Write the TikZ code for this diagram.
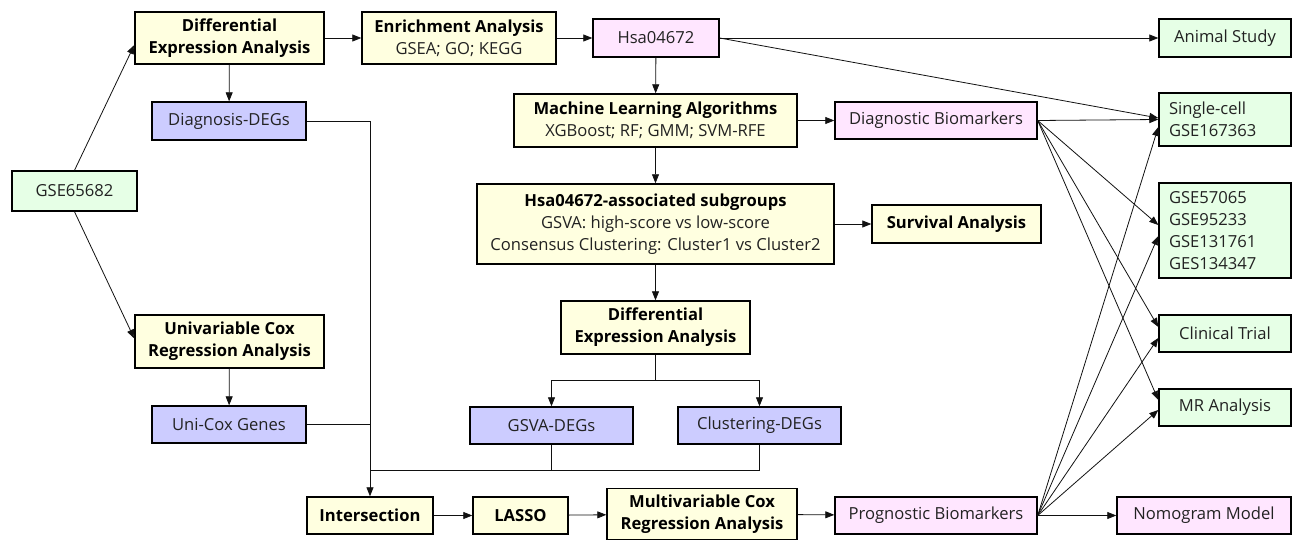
\documentclass[tikz,border=0pt]{standalone}
\usepackage{fontspec}
\setmainfont{Open Sans}
\usetikzlibrary{arrows.meta}
\definecolor{cy}{HTML}{FFFFE0}
\definecolor{cb}{HTML}{CCCCFF}
\definecolor{cp}{HTML}{FFE6FF}
\definecolor{cg}{HTML}{E6FFE6}
\definecolor{tx}{HTML}{222222}
\definecolor{ln}{HTML}{111111}
\tikzset{
  box/.style={draw=black, line width=1.4pt, inner sep=2pt, align=center, font=\fontsize{16.6}{21.8}\selectfont, text=tx},
  ybox/.style={box, fill=cy},
  bbox/.style={box, fill=cb},
  pbox/.style={box, fill=cp},
  gbox/.style={box, fill=cg},
  lbox/.style={gbox, align=left, text width=112pt},
  arr/.style={draw=ln, line width=0.8pt, -{Triangle[length=9pt,width=7pt]}},
  ln/.style={draw=ln, line width=0.8pt},
}
\newcommand{\bt}[1]{\textbf{\color{black}#1}}
\begin{document}
\begin{tikzpicture}[x=1pt,y=-1pt]
\useasboundingbox (0,0) rectangle (1293,540);
% nodes
\node[gbox, minimum width=125pt, minimum height=40pt] (gse) at (74.5,191) {GSE65682};
\node[ybox, minimum width=189pt, minimum height=52pt] (dea1) at (229.5,38) {\bt{Differential}\\\bt{Expression Analysis}};
\node[bbox, minimum width=154pt, minimum height=38pt] (ddeg) at (229,121) {Diagnosis-DEGs};
\node[ybox, minimum width=194pt, minimum height=52pt] (enr) at (459,38) {\bt{Enrichment Analysis}\\GSEA; GO; KEGG};
\node[pbox, minimum width=126pt, minimum height=38pt] (hsa) at (656,38) {Hsa04672};
\node[gbox, minimum width=132pt, minimum height=38pt] (animal) at (1225,38) {Animal Study};
\node[ybox, minimum width=283pt, minimum height=53pt] (ml) at (655.5,120.5) {\bt{Machine Learning Algorithms}\\XGBoost; RF; GMM; SVM-RFE};
\node[pbox, minimum width=202pt, minimum height=37pt] (diag) at (936,120.5) {Diagnostic Biomarkers};
\node[lbox, minimum width=132pt, minimum height=53pt] (single) at (1225,119.5) {Single-cell\\GSE167363};
\node[lbox, minimum width=132pt, minimum height=95pt] (gsel) at (1225,230.5) {GSE57065\\GSE95233\\GSE131761\\GES134347};
\node[ybox, minimum width=357pt, minimum height=80pt] (hsaa) at (655.5,224) {\bt{Hsa04672-associated subgroups}\\GSVA: high-score vs low-score\\Consensus Clustering: Cluster1 vs Cluster2};
\node[ybox, minimum width=169pt, minimum height=38pt] (surv) at (956.5,224) {\bt{Survival Analysis}};
\node[ybox, minimum width=189pt, minimum height=53pt] (dea2) at (655.5,327.5) {\bt{Differential}\\\bt{Expression Analysis}};
\node[bbox, minimum width=163pt, minimum height=37pt] (gsva) at (551.5,425.5) {GSVA-DEGs};
\node[bbox, minimum width=163pt, minimum height=37pt] (clust) at (759.5,425.5) {Clustering-DEGs};
\node[gbox, minimum width=132pt, minimum height=37pt] (clin) at (1225,333.5) {Clinical Trial};
\node[gbox, minimum width=132pt, minimum height=37pt] (mr) at (1225,407.5) {MR Analysis};
\node[pbox, minimum width=174pt, minimum height=37pt] (nomo) at (1204,515.5) {Nomogram Model};
\node[pbox, minimum width=202pt, minimum height=37pt] (prog) at (936,515.5) {Prognostic Biomarkers};
\node[ybox, minimum width=190pt, minimum height=51pt] (multi) at (702,514) {\bt{Multivariable Cox}\\\bt{Regression Analysis}};
\node[ybox, minimum width=95pt, minimum height=37pt] (lasso) at (520.5,515.5) {\bt{LASSO}};
\node[ybox, minimum width=126pt, minimum height=37pt] (inter) at (370,515.5) {\bt{Intersection}};
\node[ybox, minimum width=189pt, minimum height=53pt] (ucox) at (229.5,341.5) {\bt{Univariable Cox}\\\bt{Regression Analysis}};
\node[bbox, minimum width=154pt, minimum height=37pt] (ucg) at (229,424.5) {Uni-Cox Genes};
\coordinate (j) at (370,470);
% connectors
\draw[arr] (gse.north) -- ([yshift=-7pt]dea1.west);
\draw[arr] (gse.south) -- ([yshift=3pt]ucox.west);
\draw[arr] (dea1) -- (ddeg);
\draw[arr] (ucox) -- (ucg);
\draw[arr] (dea1) -- (enr);
\draw[arr] (enr) -- (hsa);
\draw[arr] (hsa) -- (animal);
\draw[arr] (hsa.east) -- ([yshift=1.5pt]single.west);
\draw[arr] (hsa) -- (ml);
\draw[arr] (ml) -- (diag);
\draw[arr] (ml) -- (hsaa);
\draw[arr] (hsaa) -- (surv);
\draw[arr] (hsaa) -- (dea2);
\draw[arr] (dea2.south) -- ++(0,26) -| (gsva.north);
\draw[arr] (dea2.south) -- ++(0,26) -| (clust.north);
\draw[arr] (ddeg.east) -| (inter.north);
\draw[ln] (ucg.east) -- (ucg.east -| inter.north);
\draw[ln] (gsva.south) |- (j);
\draw[ln] (clust.south) |- (j);
\draw[arr] (inter) -- (lasso);
\draw[arr] (lasso) -- (multi);
\draw[arr] (multi) -- (prog);
\draw[arr] (prog) -- (nomo);
\draw[arr] (diag.east) -- (single.west);
\draw[arr] (diag.east) -- ([yshift=5.5pt]gsel.west);
\draw[arr] (diag.east) -- ([yshift=6.5pt]clin.west);
\draw[arr] (diag.east) -- ([yshift=7.5pt]mr.west);
\draw[arr] (prog.east) -- ([yshift=-7.5pt]single.west);
\draw[arr] (prog.east) -- ([yshift=-5.5pt]gsel.west);
\draw[arr] (prog.east) -- ([yshift=-4.5pt]clin.west);
\draw[arr] (prog.east) -- ([yshift=-2.5pt]mr.west);
\end{tikzpicture}
\end{document}
